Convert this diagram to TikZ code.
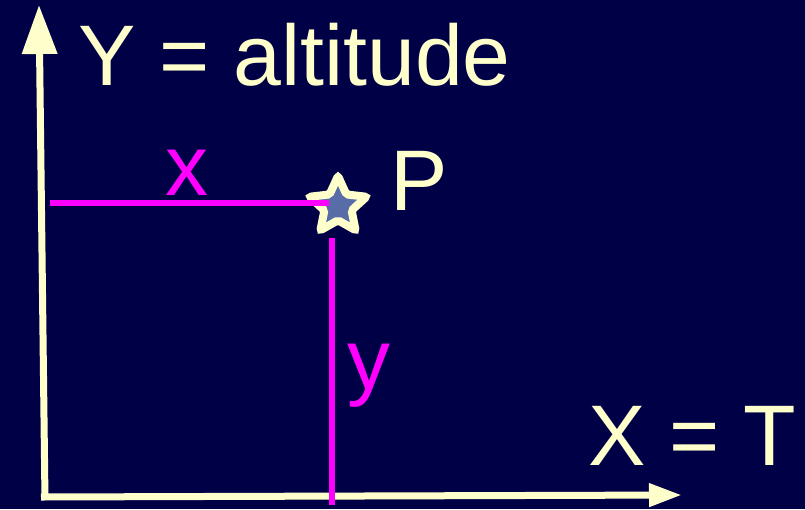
\documentclass[tikz,border=0pt]{standalone}
\usepackage{fontspec}
\setmainfont{Liberation Sans}
\usepackage{tikz}
\usetikzlibrary{
    arrows.meta,
    positioning,
    shapes.geometric
}
\definecolor{bgNavy}{RGB}{0,0,70}
\definecolor{axCream}{RGB}{255,255,204}
\definecolor{lnMagenta}{RGB}{255,0,255}
\definecolor{starFill}{RGB}{88,108,168}
\tikzset{
  axis/.style    = {draw=axCream, line width=7pt},
  guide/.style   = {draw=lnMagenta, line width=6pt},
  bigtext/.style = {font=\fontsize{86}{90}\selectfont, text=axCream,
                    inner sep=0pt, anchor=base west},
  magtext/.style = {font=\fontsize{86}{90}\selectfont, text=lnMagenta,
                    inner sep=0pt, anchor=base west}
}

\begin{document}
\begin{tikzpicture}[x=1pt, y=-1pt]

% --- BACKGROUND ---
\fill[bgNavy] (0,0) rectangle (805,509);
\useasboundingbox (0,0) rectangle (805,509);

% --- AXES ---
\coordinate (ybot) at (45,500);
\coordinate (ytop) at (39,5);
\coordinate (xleft) at (41,497);
\coordinate (xright) at (682,495);
\draw[axis, -{Triangle[length=49pt, width=34pt]}] (ybot) -- (ytop);
\draw[axis, -{Triangle[length=33pt, width=22pt]}] (xleft) -- (xright);

% --- AXIS LABELS ---
\node[bigtext] (ylab) at (78,85) {Y = altitude};
\node[bigtext] (xlab) at (588,465) {X = T};

% --- POINT P ---
\node[star, star points=5, star point ratio=2.1, minimum size=60pt,
      inner sep=0pt, fill=starFill, draw=axCream, line width=8pt,
      rounded corners=2pt] (pstar) at (338,206) {};
\node[bigtext] (plab) at (390,210) {P};

% --- PROJECTIONS ---
\coordinate (hstart) at (50,203);
\coordinate (hend) at (329,203);
\coordinate (vstart) at (332,238);
\coordinate (vend) at (332,505);
\draw[guide] (hstart) -- (hend);
\draw[guide] (vstart) -- (vend);

\node[magtext] (xval) at (165,195) {x};
\node[magtext] (yval) at (347,389) {y};

\end{tikzpicture}
\end{document}
